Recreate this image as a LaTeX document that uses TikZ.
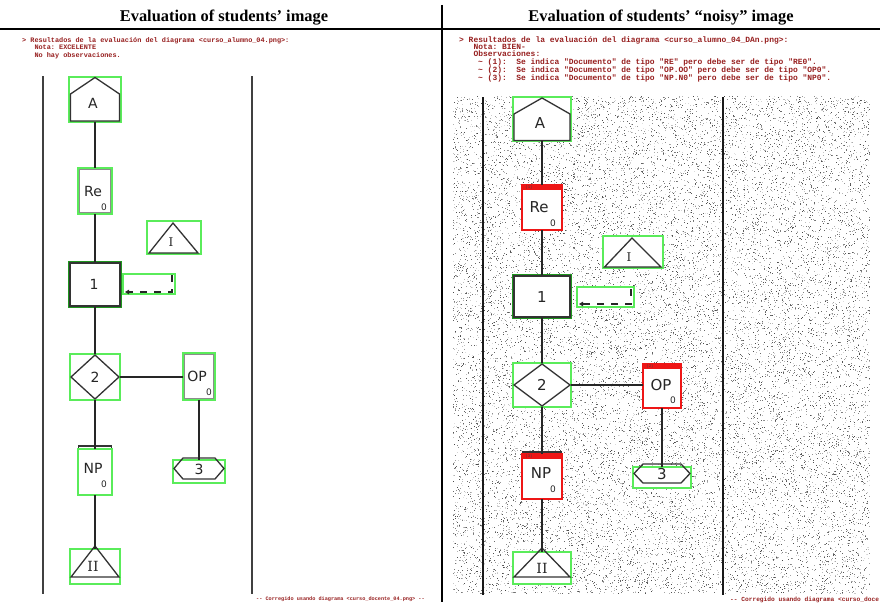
\documentclass[tikz,border=0pt]{standalone}
\usepackage{fontspec}
\setmainfont{Liberation Serif}
\setmonofont{Liberation Mono}
\newfontfamily\dvsans{DejaVu Sans}
\newfontfamily\dvserif{DejaVu Serif}
\usetikzlibrary{arrows.meta}

\definecolor{boxgreen}{RGB}{90,236,90}
\definecolor{deepgreen}{RGB}{30,150,30}
\definecolor{errred}{RGB}{238,22,22}
\definecolor{msgred}{RGB}{150,30,30}

% a box node given by its corners
\newcommand\slot[6][gslot]{%
  \path (#3,#4) -- node[#1, minimum width={(#5-#3)*1pt}, minimum height={(#6-#4)*1pt}] (#2) {} (#5,#6);}

% random grey specks, row by row (min/max specks per row, x range, y range measured downwards)
\newcommand\specks[6]{%
  \foreach \row in {#5,...,#6}{%
    \pgfmathrandominteger{\nrow}{#1}{#2}%
    \foreach \k in {1,...,\nrow}{%
      \pgfmathrandominteger{\pg}{12}{72}%
      \pgfmathrandominteger{\px}{#3}{#4}%
      \pgfsetfillcolor{black!\pg}%
      \pgfpathrectangle{\pgfpoint{\px pt}{-\row pt}}{\pgfpoint{1pt}{1pt}}%
      \pgfusepath{fill}}}}

\begin{document}
\begin{tikzpicture}[x=1pt,y=-1pt,
  slotbase/.style={inner sep=0pt, outer sep=0pt, fill=white},
  gslot/.style={slotbase, draw=boxgreen, line width=1.1pt},
  dslot/.style={slotbase, draw=deepgreen, line width=1.2pt},
  rslot/.style={slotbase, draw=errred, line width=2pt},
  shp/.style={draw=black!80, line width=1.3pt, line join=miter},
  inner/.style={draw=black!45, line width=0.8pt},
  link/.style={draw=black!85, line width=2.2pt},
  lane/.style={draw=black!75, line width=1.5pt},
  dasharrow/.style={draw=black!85, line width=1.8pt, dash pattern=on 7pt off 7pt,
    -{Triangle[length=4pt,width=4.5pt]}},
  title/.style={font=\fontsize{16.4}{18}\selectfont\bfseries, inner sep=0pt, anchor=base},
  msgL/.style={font=\ttfamily\bfseries\fontsize{6.85}{7}\selectfont\frenchspacing,
    text=msgred, inner sep=0pt, anchor=base west},
  msgR/.style={font=\ttfamily\bfseries\fontsize{7.95}{8}\selectfont\frenchspacing,
    text=msgred, inner sep=0pt, anchor=base west},
  footL/.style={font=\ttfamily\bfseries\fontsize{5.2}{6}\selectfont\frenchspacing,
    text=msgred, inner sep=0pt, anchor=base west},
  footR/.style={font=\ttfamily\bfseries\fontsize{6.2}{7}\selectfont\frenchspacing,
    text=msgred, inner sep=0pt, anchor=base west},
  tagtxt/.style={font=\ttfamily\fontsize{4}{4}\selectfont, text=black!75, inner sep=0pt},
  lblL/.style={font=\dvsans\fontsize{14}{14}\selectfont, inner sep=0pt, text=black!85},
  lblR/.style={font=\dvsans\fontsize{15}{15}\selectfont, inner sep=0pt, text=black!85},
  subL/.style={font=\dvsans\fontsize{9}{9}\selectfont, inner sep=0pt, text=black!85},
  romL/.style={font=\dvserif\fontsize{12}{12}\selectfont, inner sep=0pt, text=black!85},
  romLL/.style={font=\dvserif\fontsize{14}{14}\selectfont, inner sep=0pt, text=black!85},
]
\useasboundingbox (0,0) rectangle (880,602);

% ---------- header ----------
\node[title] (tleft) at (224,21.5) {Evaluation of students’ image};
\node[title] (tright) at (661,21.5) {Evaluation of students’ “noisy” image};
\draw[line width=2.6pt] (0,29) -- (880,29);
\draw[line width=2pt] (442,5) -- (442,602);

% ---------- left report ----------
\node[msgL] (mL1) at (22,42.3) {> Resultados de la evaluación del diagrama <curso\_alumno\_04.png>:};
\node[msgL] (mL2) at (34.3,49.7) {Nota: EXCELENTE};
\node[msgL] (mL3) at (34.3,57.3) {No hay observaciones.};
\node[footL] (fL) at (256,600.5) {-{}- Corregido usando diagrama <curso\_docente\_04.png> -{}-};

% ---------- right report ----------
\node[msgR] (mR1) at (459,42.5) {> Resultados de la evaluación del diagrama <curso\_alumno\_04\_DAn.png>:};
\node[msgR] (mR2) at (473.3,49.8) {Nota: BIEN-};
\node[msgR] (mR3) at (473.3,56.8) {Observaciones:};
\node[msgR] (mR4) at (478,64.8) {\textasciitilde{} (1):~~Se indica "Documento" de tipo "RE" pero debe ser de tipo "RE0".};
\node[msgR] (mR5) at (478,72.5) {\textasciitilde{} (2):~~Se indica "Documento" de tipo "OP.OO" pero debe ser de tipo "OP0".};
\node[msgR] (mR6) at (478,80.2) {\textasciitilde{} (3):~~Se indica "Documento" de tipo "NP.N0" pero debe ser de tipo "NP0".};
\node[footR] (fR) at (730,601.5) {-{}- Corregido usando diagrama <curso\_doce};

% noisy background of the right diagram
\pgfmathsetseed{90211}
\specks{29}{53}{453}{869}{97}{594}

% ---------- left diagram ----------
\draw[lane] (43,76) -- (43,594);
\draw[lane] (252,76) -- (252,594);

\slot{lA}{69}{77}{121}{122}
\slot{lRe}{78}{168}{112}{214}
\slot{lI}{147}{221}{201}{254}
\slot[dslot]{l1}{69}{262}{121}{307}
\slot{lD}{123}{274}{175}{294}
\slot{l2}{70}{354}{120}{400}
\slot{lOP}{183}{353}{215}{400}
\slot{l3}{173}{460}{225}{483}
\draw[shp, fill=white] (78.5,446) rectangle (111.5,491);
\slot{lNP}{78}{449}{112}{495}
\slot{lII}{70}{549}{120}{584}

\draw[shp] (70.5,121) -- (70.5,94) -- (95,77.5) -- (119.5,94) -- (119.5,121) -- cycle;
\draw[inner] (79.5,169.5) rectangle (110.5,212.5);
\draw[shp] (149,253) -- (173,223) -- (198,253) -- cycle;
\draw[shp] (70,263) rectangle (120,306);
\draw[dasharrow] (172,275) -- (172,292) -- (125,292);
\draw[shp] (95,355) -- (119,377) -- (95,399) -- (71,377) -- cycle;
\draw[inner] (184.5,354.5) rectangle (213.5,398.5);
\draw[shp] (174,468.5) -- (183,458) -- (215,458) -- (224,468.5) -- (215,479) -- (183,479) -- cycle;
\draw[shp] (71,577) -- (95,546) -- (119,577) -- cycle;

\node[lblL] (lA-t) at (93,103) {A};
\node[lblL] (lRe-t) at (93,191) {Re};
\node[subL] (lRe-s) at (104,207) {0};
\node[romL] (lI-t) at (171,242) {I};
\node[lblL] (l1-t) at (94,284) {1};
\node[lblL] (l2-t) at (95,377) {2};
\node[lblL] (lOP-t) at (197,376) {OP};
\node[subL] (lOP-s) at (209,392) {0};
\node[lblL] (l3-t) at (199,469) {3};
\node[lblL] (lNP-t) at (93,468) {NP};
\node[subL] (lNP-s) at (104,484) {0};
\node[romLL] (lII-t) at (93,566) {II};

\draw[link] (lA.south) -- (lA.south |- lRe.north);
\draw[link] (lRe.south) -- (lRe.south |- l1.north);
\draw[link] (l1.south) -- (l1.south |- l2.north);
\draw[link] (l2.east) -- (l2.east -| lOP.west);
\draw[link] (lOP.south) -- (lOP.south |- l3.north);
\draw[link] (l2.south) -- (l2.south |- lNP.north);
\draw[link] (lNP.south) -- (lNP.south |- lII.north);

% ---------- right diagram ----------
\draw[lane, draw=black!90] (483,97) -- (483,595);
\draw[lane, draw=black!90] (723,97) -- (723,595);

\slot{rA}{513}{97}{571}{141}
\slot[rslot]{rRe}{522}{185}{562}{230}
\slot{rI}{603}{236}{663}{268}
\slot[dslot]{r1}{513}{275}{571}{318}
\slot{rD}{577}{287}{634}{307}
\slot{r2}{513}{363}{571}{407}
\slot[rslot]{rOP}{643}{364}{681}{408}
\slot{r3}{633}{467}{691}{488}
\draw[shp, fill=white] (522.5,452) rectangle (561.5,497);
\slot[rslot]{rNP}{522}{454}{562}{499}
\slot{rII}{513}{552}{571}{584}

\draw[shp] (514,140.5) -- (514,114) -- (542,98) -- (570,114) -- (570,140.5) -- cycle;
\draw[shp] (604.5,267) -- (632,238) -- (661,267) -- cycle;
\draw[shp] (514,276) rectangle (570,317);
\draw[dasharrow] (631,289) -- (631,304) -- (579,304);
\draw[shp] (542,364) -- (570,385) -- (542,406) -- (514,385) -- cycle;
\draw[shp] (634,473.5) -- (643,464) -- (681,464) -- (690,473.5) -- (681,483) -- (643,483) -- cycle;
\draw[shp] (514,577) -- (542,548) -- (570,577) -- cycle;

% error bars of the flagged documents
\fill[errred] (rRe.north west) rectangle ([yshift=-5pt]rRe.north east);
\fill[errred] (rOP.north west) rectangle ([yshift=-5pt]rOP.north east);
\fill[errred] (rNP.north west) rectangle ([yshift=-5pt]rNP.north east);
\node[tagtxt] (rRe-k) at ([xshift=7pt,yshift=-2.5pt]rRe.north west) {(1)};
\node[tagtxt] (rOP-k) at ([xshift=7pt,yshift=-2.5pt]rOP.north west) {(2)};
\node[tagtxt] (rNP-k) at ([xshift=7pt,yshift=-2.5pt]rNP.north west) {(3)};

\node[lblR] (rA-t) at (540,123) {A};
\node[lblR] (rRe-t) at (539,207) {Re};
\node[subL] (rRe-s) at (553,223) {0};
\node[romL] (rI-t) at (629,257) {I};
\node[lblR] (r1-t) at (542,297) {1};
\node[lblR] (r2-t) at (542,385) {2};
\node[lblR] (rOP-t) at (661,385) {OP};
\node[subL] (rOP-s) at (673,400) {0};
\node[lblR] (r3-t) at (662,474) {3};
\node[lblR] (rNP-t) at (541,473) {NP};
\node[subL] (rNP-s) at (553,489) {0};
\node[romLL] (rII-t) at (542,568) {II};

\draw[link] (rA.south) -- (rA.south |- rRe.north);
\draw[link] (rRe.south) -- (rRe.south |- r1.north);
\draw[link] (r1.south) -- (r1.south |- r2.north);
\draw[link] (r2.east) -- (r2.east -| rOP.west);
\draw[link] (rOP.south) -- (rOP.south |- r3.north);
\draw[link] (r2.south) -- (r2.south |- rNP.north);
\draw[link] (rNP.south) -- (rNP.south |- rII.north);
\end{tikzpicture}
\end{document}
